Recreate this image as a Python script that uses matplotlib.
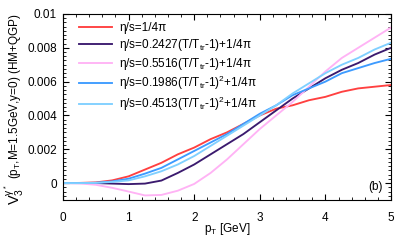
import numpy as np
import matplotlib
matplotlib.use("Agg")
import matplotlib.pyplot as plt
from matplotlib.ticker import MultipleLocator

plt.rcParams['font.family'] = ['Liberation Sans', 'DejaVu Sans']
plt.rcParams['mathtext.fontset'] = 'custom'
plt.rcParams['mathtext.rm'] = 'Liberation Sans'
plt.rcParams['mathtext.it'] = 'Liberation Sans:italic'

# values (pT in GeV, v3 of virtual photons)
pt = [0.0, 0.25, 0.5, 0.75, 1.0, 1.25, 1.5, 1.75, 2.0, 2.25, 2.5,
      2.75, 3.0, 3.25, 3.5, 3.75, 4.0, 4.25, 4.5, 4.75, 5.0]

v3_const = [0.0, 0.00001, 0.00004, 0.00016, 0.0004, 0.0008, 0.0012, 0.0017,
            0.0021, 0.0026, 0.0030, 0.0035, 0.0040, 0.0044, 0.0046, 0.0049,
            0.0051, 0.0054, 0.0056, 0.0057, 0.0058]
v3_lin1 = [0.0, 0.0, 0.0, -0.00003, -0.00006, -0.00003, 0.00015, 0.0006,
           0.0011, 0.0017, 0.0023, 0.0029, 0.0036, 0.0043, 0.0050, 0.0056,
           0.0062, 0.0067, 0.0071, 0.0076, 0.0080]
v3_lin2 = [0.0, -0.00002, -0.0001, -0.00028, -0.0005, -0.00073, -0.0007,
           -0.00045, -0.00005, 0.0006, 0.0014, 0.0023, 0.0032, 0.0040, 0.0048,
           0.0057, 0.0066, 0.0074, 0.0080, 0.0086, 0.0092]
v3_quad1 = [0.0, 0.0, 0.00002, 0.0001, 0.00026, 0.00056, 0.0009, 0.0014,
            0.0019, 0.0024, 0.0029, 0.0035, 0.0041, 0.0046, 0.0052, 0.0056,
            0.0060, 0.0065, 0.0068, 0.0071, 0.00735]
v3_quad2 = [0.0, 0.0, 0.00001, 0.00007, 0.00016, 0.0004, 0.0007, 0.0011,
            0.0016, 0.0022, 0.0028, 0.0034, 0.0040, 0.0046, 0.0053, 0.0059,
            0.0065, 0.0070, 0.0074, 0.0079, 0.0083]

labels = [r'η/s=1/4π',
          r'η/s=0.2427(T/T$_\mathregular{tr}$-1)+1/4π',
          r'η/s=0.5516(T/T$_\mathregular{tr}$-1)+1/4π',
          r'η/s=0.1986(T/T$_\mathregular{tr}$-1)$^\mathregular{2}$+1/4π',
          r'η/s=0.4513(T/T$_\mathregular{tr}$-1)$^\mathregular{2}$+1/4π']
colors = ['#ff4040', '#3b1a6e', '#ffb3f5', '#3d9bff', '#80d0ff']

fig = plt.figure(figsize=(4.11, 2.47), dpi=100)
ax = fig.add_axes([63 / 411, 1 - 200 / 247, 328 / 411, 186 / 247])

for vals, lab, col in zip([v3_const, v3_lin1, v3_lin2, v3_quad1, v3_quad2], labels, colors):
    ax.plot(pt, vals, color=col, lw=1.35, label=lab)

ax.set_xlim(0, 5)
ax.set_ylim(-0.001, 0.01)
ax.xaxis.set_major_locator(MultipleLocator(1))
ax.xaxis.set_minor_locator(MultipleLocator(0.2))
ax.yaxis.set_minor_locator(MultipleLocator(0.00025))
ax.set_yticks([0, 0.002, 0.004, 0.006, 0.008, 0.01])
ax.set_yticklabels(['0', '0.002', '0.004', '0.006', '0.008', '0.01'])
ax.tick_params(which='both', direction='in', top=True, right=True, labelsize=8.5)
ax.tick_params(axis='x', pad=8.5)
ax.tick_params(axis='y', pad=4.5)
ax.tick_params(which='major', length=4)
ax.tick_params(which='minor', length=2)

ax.set_xlabel(r'p$_\mathregular{T}$ [GeV]', fontsize=8.5, labelpad=-2)
fig.text(0.035, 1 - 205 / 247, r'V$_\mathregular{3}^{\mathregular{\gamma}^*}$',
         rotation=90, fontsize=10.5, ha='center', va='bottom')
fig.text(0.037, 1 - 179 / 247, r'(p$_\mathregular{T}$,M=1.5GeV,y=0) (HM+QGP)',
         rotation=90, fontsize=8.5, ha='center', va='bottom')
ax.text(4.87, -0.00024, '(b)', fontsize=8.5, ha='right', va='center')

ax.legend(loc='upper left', fontsize=8.5, frameon=False, handlelength=2.8,
          handletextpad=0.6, labelspacing=0.22, borderaxespad=0.0,
          bbox_to_anchor=(0.035, 0.98))

fig.savefig('out.png', dpi=100)
